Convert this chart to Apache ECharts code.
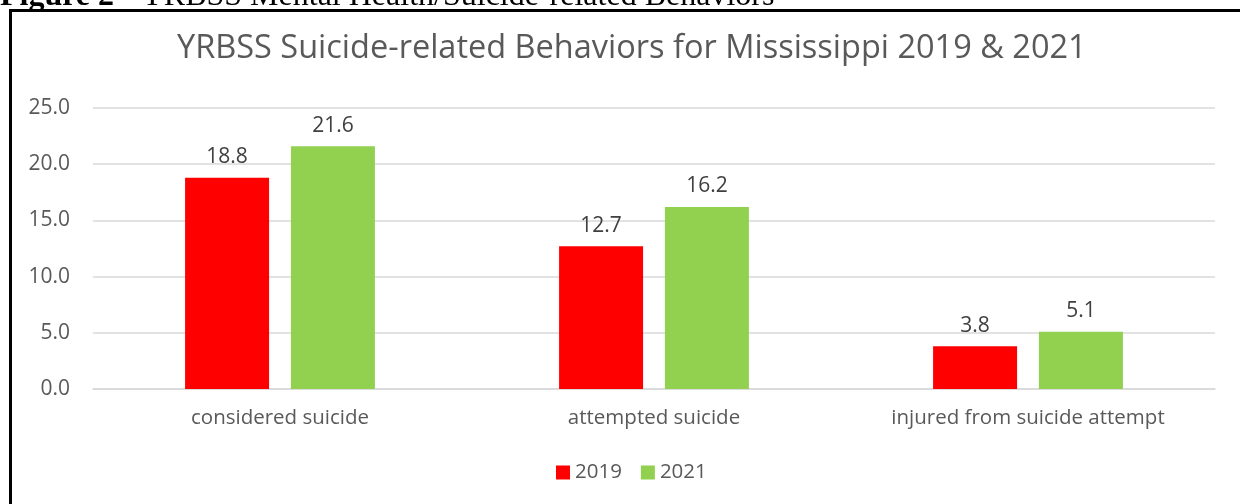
<!DOCTYPE html>
<html>
<head>
<meta charset="utf-8">
<script src="https://cdn.jsdelivr.net/npm/echarts@6/dist/echarts.min.js"></script>
<style>html,body{margin:0;padding:0;background:#fff;}#c{width:1240px;height:504px;}</style>
</head>
<body>
<div id="c"></div>
<script>
var categories = ['considered suicide', 'attempted suicide', 'injured from suicide attempt'];
var values2019 = [18.8, 12.7, 3.8];
var values2021 = [21.6, 16.2, 5.1];
var seriesNames = ['2019', '2021'];
var chartTitle = 'YRBSS Suicide-related Behaviors for Mississippi 2019 & 2021';
var captionBold = 'Figure 2';
var captionRest = ' - YRBSS Mental Health/Suicide-related Behaviors';

var font = 'Open Sans';
var fs = 20.5;
var chart = echarts.init(document.getElementById('c'));
chart.setOption({
  animation: false,
  backgroundColor: '#fff',
  title: {
    text: chartTitle,
    left: 172,
    top: 27,
    textStyle: {fontFamily: font, fontSize: 32.5, fontWeight: 'normal', color: '#595959'}
  },
  legend: {
    bottom: 16,
    left: 551,
    itemWidth: 14,
    itemHeight: 14,
    itemGap: 19,
    itemTextGap: 6,
    icon: 'rect',
    textStyle: {fontFamily: font, fontSize: fs, color: '#595959'},
    data: seriesNames
  },
  grid: {left: 93, right: 25, top: 108, bottom: 115},
  xAxis: {
    type: 'category',
    data: categories,
    axisLine: {lineStyle: {color: '#d9d9d9', width: 1.5}},
    axisTick: {show: false},
    axisLabel: {fontFamily: font, fontSize: fs, color: '#595959', margin: 19}
  },
  yAxis: {
    type: 'value',
    min: 0, max: 25, interval: 5,
    axisLine: {show: false},
    axisTick: {show: false},
    splitLine: {lineStyle: {color: '#d9d9d9', width: 1.5}},
    axisLabel: {fontFamily: font, fontSize: 21, color: '#595959', margin: 23,
      formatter: function (v) { return v.toFixed(1); }}
  },
  series: [
    {name: seriesNames[0], type: 'bar', data: values2019, barWidth: 84, barGap: '26%',
     itemStyle: {color: '#ff0000'},
     label: {show: true, position: 'top', distance: 10, fontFamily: font, fontSize: 21, color: '#404040',
       formatter: function (p) { return p.value.toFixed(1); }}},
    {name: seriesNames[1], type: 'bar', data: values2021, barWidth: 84,
     itemStyle: {color: '#92d050'},
     label: {show: true, position: 'top', distance: 10, fontFamily: font, fontSize: 21, color: '#404040',
       formatter: function (p) { return p.value.toFixed(1); }}}
  ],
  graphic: [
    {type: 'polyline', shape: {points: [[10.5, 520], [10.5, 10.5], [1260, 10.5]]},
     style: {stroke: '#000', lineWidth: 3, fill: null}},
    {type: 'text', left: 0, top: -19,
     style: {text: '{b|' + captionBold + '}' + captionRest, font: '32px "Liberation Serif"', fill: '#000',
       rich: {b: {fontFamily: 'Liberation Serif', fontSize: 32, fontWeight: 'bold', fill: '#000'}}}}
  ]
});
</script>
</body>
</html>
